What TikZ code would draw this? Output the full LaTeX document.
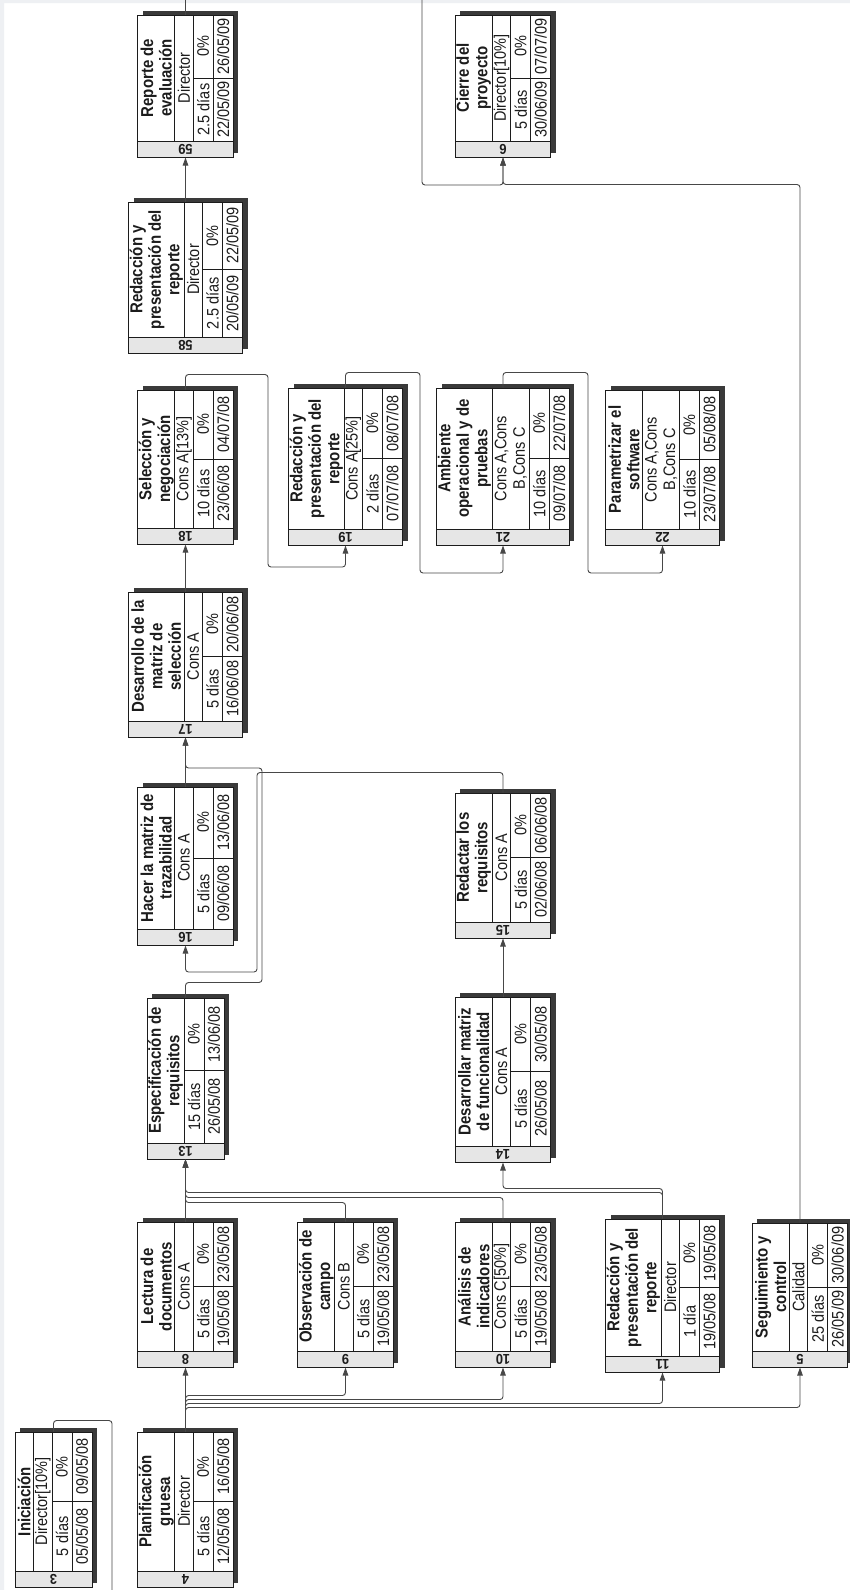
\documentclass[tikz,border=0pt]{standalone}
\usepackage{fontspec}
\setmainfont{Liberation Sans}
\usepackage{tikz}
\usetikzlibrary{arrows.meta, calc}
\definecolor{tinta}{HTML}{1C1C1C}
\definecolor{sombrio}{HTML}{3A3A3A}
\definecolor{bandagris}{HTML}{E6E6E6}
\definecolor{lineagris}{HTML}{474747}
\definecolor{fondo}{HTML}{EEF0F3}

% marco de una tarea: nombre, x centro, y arriba, y abajo, id, lineas titulo, lineas recurso
\newcommand{\caja}[7]{%
  \pgfmathsetmacro{\cAncho}{18.5*(#6+#7)+40}%
  \pgfmathsetmacro{\cIzq}{#2-\cAncho/2}%
  \pgfmathsetmacro{\cTit}{\cIzq+18.5*#6}%
  \pgfmathsetmacro{\cRec}{\cTit+18.5*#7}%
  \pgfmathsetmacro{\cDur}{\cRec+20}%
  \pgfmathsetmacro{\cDer}{\cDur+20}%
  \pgfmathsetmacro{\cBanda}{#4-16}%
  \pgfmathsetmacro{\cMedio}{(#3+\cBanda)/2}%
  \pgfmathsetmacro{\cAlto}{#4-#3}%
  \fill[sombra] (\cIzq+5,#3-4) rectangle (\cDer+5,#4-4);
  \node[marco, fill=white, inner sep=0pt, minimum width=\cAncho pt, minimum height=\cAlto pt] (#1) at (#2,{(#3+#4)/2}) {};
  \filldraw[banda] (\cIzq,\cBanda) rectangle (\cDer,#4);
  \draw[marco] (\cTit,#3) -- (\cTit,\cBanda) (\cRec,#3) -- (\cRec,\cBanda)
    (\cDur,#3) -- (\cDur,\cBanda) (\cRec,\cMedio) -- (\cDer,\cMedio);
  \coordinate (#1-tit) at ({(\cIzq+\cTit)/2},\cMedio);
  \coordinate (#1-rec) at ({(\cTit+\cRec)/2},\cMedio);
  \coordinate (#1-dur) at ({(\cRec+\cDur)/2},{(\cMedio+\cBanda)/2});
  \coordinate (#1-pct) at ({(\cRec+\cDur)/2},{(#3+\cMedio)/2});
  \coordinate (#1-ini) at ({(\cDur+\cDer)/2},{(\cMedio+\cBanda)/2});
  \coordinate (#1-fin) at ({(\cDur+\cDer)/2},{(#3+\cMedio)/2});
  \node[ident] (#1-id) at (#2,{(\cBanda+#4)/2}) {#5};
}
% textos: nombre, titulo, recurso, duracion, avance, comienzo, fin
\newcommand{\datos}[7]{%
  \node[titulo] (#1-t) at (#1-tit) {#2};
  \node[dato] (#1-r) at (#1-rec) {#3};
  \node[dato] (#1-d) at (#1-dur) {#4};
  \node[dato] (#1-p) at (#1-pct) {#5};
  \node[dato] (#1-s) at (#1-ini) {#6};
  \node[dato] (#1-f) at (#1-fin) {#7};
}

\begin{document}
\begin{tikzpicture}[
  x=1pt, y=-1pt,
  marco/.style={draw=tinta, line width=1pt},
  sombra/.style={fill=sombrio},
  banda/.style={fill=bandagris, draw=tinta, line width=1pt},
  titulo/.style={rotate=90, yscale=1.15, text=tinta, font=\fontsize{15}{16.1}\selectfont\bfseries, align=center, inner sep=0pt},
  dato/.style={rotate=90, yscale=1.15, text=tinta, font=\fontsize{14.5}{16.1}\selectfont, align=center, inner sep=0pt},
  ident/.style={rotate=180, yscale=1.1, text=tinta, font=\fontsize{13}{15}\selectfont\bfseries, inner sep=0pt},
  linea/.style={draw=lineagris, line width=0.9pt, rounded corners=3pt},
  enlace/.style={linea, -{Triangle[length=8pt, width=5.5pt]}}
]
\useasboundingbox (0,0) rectangle (850,1590);
\fill[white] (0,0) rectangle (850,1590);
\fill[fondo] (0,0) rectangle (850,3) (0,0) rectangle (4,1590);

% tareas
\caja{t59}{185.5}{15}{157}{59}{2}{1}
\datos{t59}{Reporte de\\evaluación}{Director}{2.5 días}{0\%}{22/05/09}{26/05/09}
\caja{t6}{503}{15}{157}{6}{2}{1}
\datos{t6}{Cierre del\\proyecto}{Director[10\%]}{5 días}{0\%}{30/06/09}{07/07/09}
\caja{t58}{185.5}{202}{353}{58}{3}{1}
\datos{t58}{Redacción y\\presentación del\\reporte}{Director}{2.5 días}{0\%}{20/05/09}{22/05/09}
\caja{t18}{185.5}{390}{544}{18}{2}{1}
\datos{t18}{Selección y\\negociación}{Cons A[13\%]}{10 días}{0\%}{23/06/08}{04/07/08}
\caja{t19}{345.5}{388}{545}{19}{3}{1}
\datos{t19}{Redacción y\\presentación del\\reporte}{Cons A[25\%]}{2 días}{0\%}{07/07/08}{08/07/08}
\caja{t21}{503}{388}{545}{21}{3}{2}
\datos{t21}{Ambiente\\operacional y de\\pruebas}{Cons A,Cons\\B,Cons C}{10 días}{0\%}{09/07/08}{22/07/08}
\caja{t22}{662.5}{390}{545}{22}{2}{2}
\datos{t22}{Parametrizar el\\software}{Cons A,Cons\\B,Cons C}{10 días}{0\%}{23/07/08}{05/08/08}
\caja{t17}{185.5}{592}{737}{17}{3}{1}
\datos{t17}{Desarrollo de la\\matriz de\\selección}{Cons A}{5 días}{0\%}{16/06/08}{20/06/08}
\caja{t16}{185.5}{787}{945}{16}{2}{1}
\datos{t16}{Hacer la matriz de\\trazabilidad}{Cons A}{5 días}{0\%}{09/06/08}{13/06/08}
\caja{t15}{503}{793}{938}{15}{2}{1}
\datos{t15}{Redactar los\\requisitos}{Cons A}{5 días}{0\%}{02/06/08}{06/06/08}
\caja{t13}{185.5}{998}{1159}{13}{2}{0}
\datos{t13}{Especificación de\\requisitos}{}{15 días}{0\%}{26/05/08}{13/06/08}
\caja{t14}{503}{997}{1162}{14}{2}{1}
\datos{t14}{Desarrollar matriz\\de funcionalidad}{Cons A}{5 días}{0\%}{26/05/08}{30/05/08}
\caja{t8}{185.5}{1222}{1367}{8}{2}{1}
\datos{t8}{Lectura de\\documentos}{Cons A}{5 días}{0\%}{19/05/08}{23/05/08}
\caja{t9}{345.5}{1222}{1367}{9}{2}{1}
\datos{t9}{Observación de\\campo}{Cons B}{5 días}{0\%}{19/05/08}{23/05/08}
\caja{t10}{503}{1222}{1367}{10}{2}{1}
\datos{t10}{Análisis de\\indicadores}{Cons C[50\%]}{5 días}{0\%}{19/05/08}{23/05/08}
\caja{t11}{662.5}{1219}{1372}{11}{3}{1}
\datos{t11}{Redacción y\\presentación del\\reporte}{Director}{1 día}{0\%}{19/05/08}{19/05/08}
\caja{t5}{800}{1223}{1367}{5}{2}{1}
\datos{t5}{Seguimiento y\\control}{Calidad}{25 días}{0\%}{26/05/09}{30/06/09}
\caja{t3}{53.5}{1432}{1587}{3}{1}{1}
\datos{t3}{Iniciación}{Director[10\%]}{5 días}{0\%}{05/05/08}{09/05/08}
\caja{t4}{185.5}{1432}{1587}{4}{2}{1}
\datos{t4}{Planificación\\gruesa}{Director}{5 días}{0\%}{12/05/08}{16/05/08}

% extremos fuera del dibujo
\coordinate (salida3) at (112,1590);
\coordinate (salida59) at (185.5,0);
\coordinate (entrada6) at (422,0);

% enlaces
\draw[linea] (t3.north) -- ++(0,-11) -| (salida3);
\draw[enlace] (t4.north) -- (t8.south);
\draw[enlace] (t4.north) -- ++(0,-36) -| (t9.south);
\draw[enlace] (t4.north) -- ++(0,-32) -| (t10.south);
\draw[enlace] (t4.north) -- ++(0,-28) -| (t11.south);
\draw[enlace] (t4.north) -- ++(0,-24) -| (t5.south);
\draw[enlace] (t8.north) -- (t13.south);
\draw[enlace] (t9.north) -- ++(0,-19) -| (t13.south);
\draw[enlace] (t10.north) -- ++(0,-24) -| (t13.south);
\draw[enlace] (t11.north) -- ++(0,-26) -| (t13.south);
\draw[enlace] (t11.north) -- ++(0,-30) -| (t14.south);
\draw[enlace] (t14.north) -- (t15.south);
\draw[enlace] (t13.north) -- ++(0,-15) -| (262,768) -| (t17.south);
\draw[enlace] (t15.north) -- ++(0,-20) -| (257,972) -| (t16.south);
\draw[enlace] (t16.north) -- (t17.south);
\draw[enlace] (t17.north) -- (t18.south);
\draw[enlace] (t18.north) -- ++(0,-15) -| (268,567) -| (t19.south);
\draw[enlace] (t19.north) -- ++(0,-15) -| (420,573) -| (t21.south);
\draw[enlace] (t21.north) -- ++(0,-15) -| (588,573) -| (t22.south);
\draw[enlace] (t58.north) -- (t59.south);
\draw[linea] (t59.north) -- (salida59);
\draw[enlace] (entrada6) -- ++(0,185) -| (t6.south);
\draw[enlace] (t5.north) -- ++(0,-1038) -| (t6.south);
\end{tikzpicture}
\end{document}
